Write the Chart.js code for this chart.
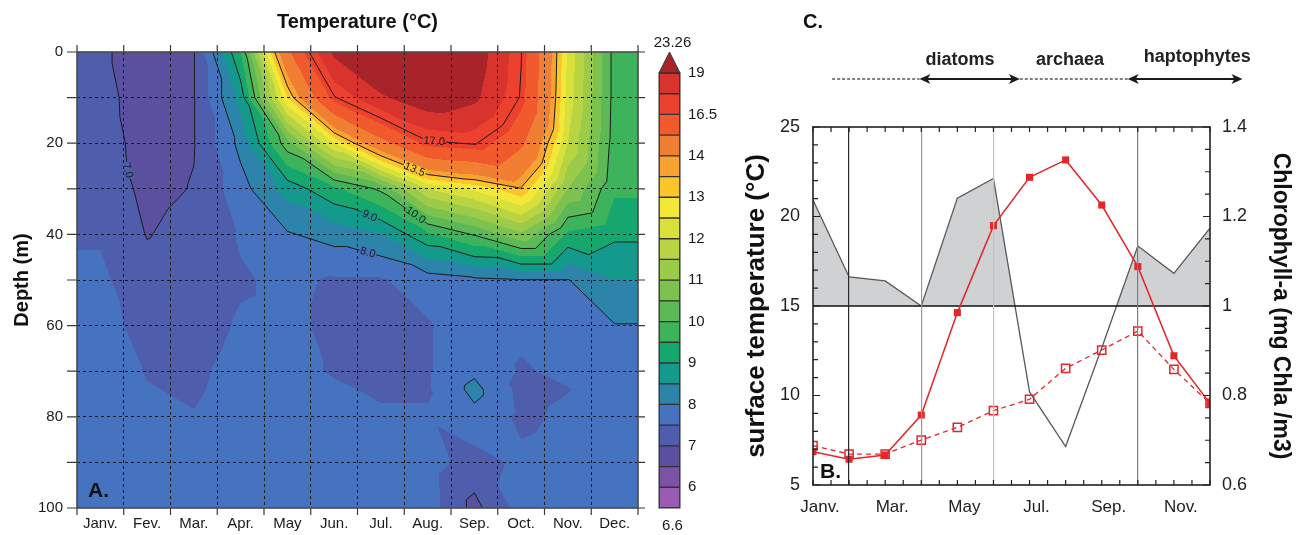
<!DOCTYPE html>
<html lang="en">
<head>
<meta charset="UTF-8">
<title>Temperature profile and surface chlorophyll</title>
<script src="https://cdn.jsdelivr.net/npm/chart.js"></script>
<style>
    body { margin: 0; background: #fff; }
    #wrap { position: relative; width: 1301px; height: 535px; overflow: hidden; }
    canvas { position: absolute; top: 0; }
    #depthChart { left: 0; }
    #colorBar { left: 645px; }
    #seasonChart { left: 720px; }
</style>
</head>
<body>
<div id="wrap">
    <canvas id="depthChart" width="645" height="535"></canvas>
    <canvas id="colorBar" width="75" height="535"></canvas>
    <canvas id="seasonChart" width="581" height="535"></canvas>
</div>
<script>
const MONTHS = ['Janv.', 'Fev.', 'Mar.', 'Apr.', 'May', 'Jun.', 'Jul.', 'Aug.', 'Sep.', 'Oct.', 'Nov.', 'Dec.'];

// depth profiles (m) and monthly temperature (°C) at those depths
const DEPTHS = [0, 10, 20, 30, 40, 50, 60, 70, 74, 80, 90, 100];
const T_JAN = [7.05, 7.10, 7.16, 7.29, 7.45, 7.60, 7.65, 7.65, 7.70, 7.70, 7.70, 7.70];
const T_FEV = [6.85, 6.85, 6.86, 6.88, 6.98, 7.15, 7.35, 7.48, 7.52, 7.58, 7.65, 7.65];
const T_MAR = [6.98, 6.98, 6.98, 7.02, 7.15, 7.25, 7.30, 7.42, 7.45, 7.52, 7.60, 7.65];
const T_APR = [9.50, 8.70, 8.15, 7.80, 7.55, 7.45, 7.55, 7.65, 7.65, 7.70, 7.75, 7.75];
const T_MAY = [15.0, 13.0, 10.3, 8.70, 7.95, 7.60, 7.60, 7.60, 7.65, 7.70, 7.75, 7.75];
const T_JUN = [19.3, 16.9, 12.5, 9.40, 8.20, 7.45, 7.40, 7.47, 7.55, 7.60, 7.70, 7.75];
const T_JUL = [21.0, 18.8, 14.8, 10.1, 8.50, 7.45, 7.35, 7.35, 7.45, 7.55, 7.65, 7.70];
const T_AUG = [21.2, 20.0, 16.8, 12.0, 9.40, 7.75, 7.45, 7.45, 7.45, 7.55, 7.70, 7.75];
const T_SEP = [19.8, 19.3, 17.1, 12.6, 10.05, 7.90, 7.80, 7.90, 8.15, 7.85, 7.30, 6.85];
const T_OCT = [17.05, 16.9, 15.5, 13.45, 10.9, 7.98, 7.60, 7.45, 7.35, 7.40, 7.60, 7.70];
const T_NOV = [12.4, 12.3, 12.0, 11.0, 9.40, 7.98, 7.80, 7.60, 7.48, 7.60, 7.70, 7.75];
const T_DEC = [9.80, 9.80, 9.75, 9.60, 9.10, 8.50, 7.98, 7.80, 7.80, 7.80, 7.80, 7.80];

// colour classes of the temperature field
const COLOR_LEVELS = [5.5, 6, 6.5, 7, 7.5, 8, 8.5, 9, 9.5, 10, 10.5, 11, 11.5, 12, 12.5, 13, 13.5, 14, 15.25, 16.5, 17.75, 19];
const CONTOUR_LEVELS = [7, 8, 9, 10, 13.5, 17];
const FIELD_MAX = '23.26';
const FIELD_MIN = '6.6';

// surface series (right panel)
const SURFACE_TEMP = [6.86, 6.44, 6.68, 8.91, 14.63, 19.49, 22.19, 23.16, 20.64, 17.2, 12.22, 9.56];
const TEMP_OPEN = [7.2, 6.73, 6.73, 7.51, 8.22, 9.15, 9.79, 11.52, 12.54, 13.6, 11.46, 9.56];
const CHL_A = [1.237, 1.065, 1.056, 1.0, 1.241, 1.285, 0.808, 0.686, 0.906, 1.134, 1.073, 1.174];
const CHL_BASE = 1;

// community phases along the season (month index, Janv. = 0)
const PHASES = [
    { name: '', from: 0.53, to: 2.95, arrows: false },
    { name: 'diatoms', from: 2.95, to: 5.73, arrows: true, labelAt: 4.07 },
    { name: 'archaea', from: 5.73, to: 8.72, arrows: false, labelAt: 7.12 },
    { name: 'haptophytes', from: 8.72, to: 11.9, arrows: true, labelAt: 10.65 }
];

// ---- styles ----
const BAND_COLORS = [
    '#9a5cb2', '#7b52a6', '#5b4f9f', '#4e5ead', '#4573bf', '#2c84ab', '#139a8c',
    '#16a76f', '#3db35c', '#5db955', '#7dc24f', '#9ccb4a', '#b9d443', '#d8e03b',
    '#f3e837', '#fcc52c', '#f7a231', '#f07f33', '#f05a2c', '#eb412e', '#d8332d',
    '#a8232a'
];
const GUIDE_COLORS = { 1: '#2a2a2a', 3: '#9a9a9a', 5: '#c4c4c4', 9: '#7e7e7e' };
const CONTOUR_LABELS = [
    { level: 7, month: 1.08, depth: 28 },
    { level: 17, month: 7.64, depth: 19.7 },
    { level: 13.5, month: 7.22, depth: 25.2 },
    { level: 10, month: 7.24, depth: 36.2 },
    { level: 9, month: 6.26, depth: 35.3 },
    { level: 8, month: 6.22, depth: 43.4 }
];
const NONE = 'rgba(0,0,0,0)';
const RED = '#e4262b';

Chart.defaults.font.family = '"Liberation Sans", Arial, Helvetica, sans-serif';
Chart.defaults.color = '#1a1a1a';

// month columns sit at the middle of each month, padded out to the plot edges
const GX = [0, ...MONTHS.map((m, i) => i + 0.5), 12];
const MONTH_T = [T_JAN, T_FEV, T_MAR, T_APR, T_MAY, T_JUN, T_JUL, T_AUG, T_SEP, T_OCT, T_NOV, T_DEC];
const GRID = [MONTH_T[0], ...MONTH_T, MONTH_T[11]];

function hexToRgb(h) {
    const n = parseInt(h.slice(1), 16);
    return [(n >> 16) & 255, (n >> 8) & 255, n & 255];
}
const BAND_RGB = BAND_COLORS.map(hexToRgb);

function bandIndex(v) {
    if (v >= COLOR_LEVELS[COLOR_LEVELS.length - 1]) return BAND_COLORS.length - 1;
    let i = 0;
    while (i < COLOR_LEVELS.length - 2 && v >= COLOR_LEVELS[i + 1]) i++;
    return i;
}

// linear interpolation on triangles (each grid cell split on its diagonal)
function sampleField(u, d) {
    let k = 0;
    while (k < GX.length - 2 && u > GX[k + 1]) k++;
    let r = 0;
    while (r < DEPTHS.length - 2 && d > DEPTHS[r + 1]) r++;
    const fx = Math.min(1, Math.max(0, (u - GX[k]) / (GX[k + 1] - GX[k])));
    const fy = Math.min(1, Math.max(0, (d - DEPTHS[r]) / (DEPTHS[r + 1] - DEPTHS[r])));
    const v00 = GRID[k][r], v10 = GRID[k + 1][r], v01 = GRID[k][r + 1], v11 = GRID[k + 1][r + 1];
    return fx >= fy ? v00 + fx * (v10 - v00) + fy * (v11 - v10)
                    : v00 + fy * (v01 - v00) + fx * (v11 - v01);
}

const contourPlot = {
    id: 'contourPlot',
    beforeDatasetsDraw(chart) {
        const { ctx, chartArea: a, scales: { x, y } } = chart;
        const w = Math.round(a.right - a.left), h = Math.round(a.bottom - a.top);
        const off = document.createElement('canvas');
        off.width = w; off.height = h;
        const octx = off.getContext('2d');
        const img = octx.createImageData(w, h);
        for (let py = 0; py < h; py++) {
            const d = y.getValueForPixel(a.top + py + 0.5);
            for (let px = 0; px < w; px++) {
                const c = BAND_RGB[bandIndex(sampleField(x.getValueForPixel(a.left + px + 0.5), d))];
                const o = (py * w + px) * 4;
                img.data[o] = c[0]; img.data[o + 1] = c[1]; img.data[o + 2] = c[2]; img.data[o + 3] = 255;
            }
        }
        octx.putImageData(img, 0, 0);
        ctx.drawImage(off, a.left, a.top);

        // contour lines, marching triangles over the same mesh
        const P = (k, r) => [x.getPixelForValue(GX[k]), y.getPixelForValue(DEPTHS[r]), GRID[k][r]];
        ctx.save();
        ctx.beginPath();
        ctx.rect(a.left, a.top, a.right - a.left, a.bottom - a.top);
        ctx.clip();
        ctx.beginPath();
        for (const L of CONTOUR_LEVELS) {
            for (let k = 0; k < GX.length - 1; k++) {
                for (let r = 0; r < DEPTHS.length - 1; r++) {
                    const p00 = P(k, r), p10 = P(k + 1, r), p11 = P(k + 1, r + 1), p01 = P(k, r + 1);
                    for (const tri of [[p00, p10, p11], [p00, p01, p11]]) {
                        const pts = [];
                        for (const [p, q] of [[tri[0], tri[1]], [tri[1], tri[2]], [tri[2], tri[0]]]) {
                            if ((p[2] >= L) !== (q[2] >= L)) {
                                const t = (L - p[2]) / (q[2] - p[2]);
                                pts.push([p[0] + t * (q[0] - p[0]), p[1] + t * (q[1] - p[1])]);
                            }
                        }
                        if (pts.length === 2) {
                            ctx.moveTo(pts[0][0], pts[0][1]);
                            ctx.lineTo(pts[1][0], pts[1][1]);
                        }
                    }
                }
            }
        }
        ctx.strokeStyle = '#1c1c1c';
        ctx.lineWidth = 1;
        ctx.stroke();

        // contour labels, placed on the line nearest the wanted depth
        ctx.font = '11px "Liberation Sans", Arial, sans-serif';
        ctx.textAlign = 'center';
        ctx.textBaseline = 'middle';
        for (const lab of CONTOUR_LABELS) {
            let best = null;
            let prev = sampleField(lab.month, 0);
            for (let d = 0.2; d <= 100; d += 0.2) {
                const v = sampleField(lab.month, d);
                if ((prev >= lab.level) !== (v >= lab.level)) {
                    if (best === null || Math.abs(d - lab.depth) < Math.abs(best - lab.depth)) best = d;
                }
                prev = v;
            }
            if (best === null) continue;
            const px = x.getPixelForValue(lab.month), py = y.getPixelForValue(best);
            const f = (qx, qy) => sampleField(x.getValueForPixel(qx), y.getValueForPixel(qy));
            const gx = f(px + 2, py) - f(px - 2, py), gy = f(px, py + 2) - f(px, py - 2);
            let tx = gy, ty = -gx;
            if (tx < 0) { tx = -tx; ty = -ty; }
            const text = lab.level.toFixed(1);
            ctx.save();
            ctx.translate(px, py);
            ctx.rotate(Math.atan2(ty, tx));
            const tw = ctx.measureText(text).width;
            ctx.fillStyle = BAND_COLORS[bandIndex(f(px, py + 3))];
            ctx.fillRect(-tw / 2 - 1, -5, tw + 2, 10);
            ctx.fillStyle = '#1a1a1a';
            ctx.fillText(text, 0, 0);
            ctx.restore();
        }
        ctx.restore();
    },
    afterDraw(chart) {
        const { ctx, chartArea: a, scales: { x, y } } = chart;
        ctx.save();
        ctx.strokeStyle = '#3a3a3a';
        ctx.lineWidth = 1.2;
        ctx.beginPath();
        for (let d = 0; d <= 100; d += 10) {
            const py = y.getPixelForValue(d);
            ctx.moveTo(a.left - 10, py); ctx.lineTo(a.left, py);
            ctx.moveTo(a.right, py); ctx.lineTo(a.right + 10, py);
        }
        for (let m = 0; m <= 12; m++) {
            const px = x.getPixelForValue(m);
            ctx.moveTo(px, a.top - 7); ctx.lineTo(px, a.top);
            ctx.moveTo(px, a.bottom); ctx.lineTo(px, a.bottom + 7);
        }
        ctx.stroke();
        ctx.lineWidth = 1.6;
        ctx.strokeStyle = '#4a4a4a';
        ctx.strokeRect(a.left, a.top, a.right - a.left, a.bottom - a.top);
        ctx.fillStyle = '#111';
        ctx.font = 'bold 21px "Liberation Sans", Arial, sans-serif';
        ctx.textAlign = 'left';
        ctx.textBaseline = 'alphabetic';
        ctx.fillText('A.', a.left + 11, a.bottom - 11);
        ctx.restore();
    }
};

new Chart(document.getElementById('depthChart'), {
    type: 'scatter',
    data: { datasets: [] },
    options: {
        responsive: false,
        animation: false,
        layout: { padding: { right: 3 } },
        plugins: {
            legend: { display: false },
            tooltip: { enabled: false },
            title: {
                display: true, text: 'Temperature (°C)', fullSize: false, color: '#111',
                font: { size: 20, weight: 'bold' }, padding: { top: 10, bottom: 18 }
            }
        },
        scales: {
            x: {
                type: 'linear', min: 0, max: 12,
                afterFit: s => { s.height = 27; },
                grid: {
                    z: 1, drawTicks: false, lineWidth: 1,
                    color: c => {
                        const v = c.tick && c.tick.value;
                        return Number.isInteger(v) && v > 0 && v < 12 ? '#1a1a1a' : NONE;
                    }
                },
                border: { display: false, dash: [3, 3] },
                ticks: {
                    stepSize: 0.5, autoSkip: false, maxRotation: 0, minRotation: 0, padding: 7,
                    font: { size: 15 },
                    callback: v => Number.isInteger(v - 0.5) ? MONTHS[v - 0.5] : ''
                }
            },
            y: {
                type: 'linear', reverse: true, min: 0, max: 100,
                afterFit: s => { s.width = 77; },
                grid: {
                    z: 1, drawTicks: false, lineWidth: 1,
                    color: c => (c.tick && c.tick.value > 0 && c.tick.value < 100) ? '#1a1a1a' : NONE
                },
                border: { display: false, dash: [3, 3] },
                ticks: { stepSize: 10, padding: 14, font: { size: 15 }, callback: v => v % 20 === 0 ? v : '' },
                title: { display: true, text: 'Depth (m)', color: '#111', font: { size: 20, weight: 'bold' }, padding: { top: 10 } }
            }
        }
    },
    plugins: [contourPlot]
});

// colour key: one stacked segment per class, open-ended triangle on top
const colorBarEnds = {
    id: 'colorBarEnds',
    afterDraw(chart) {
        const { ctx, chartArea: a } = chart;
        const top = a.top, l = a.left, r = a.right;
        ctx.save();
        ctx.beginPath();
        ctx.moveTo(l, top);
        ctx.lineTo((l + r) / 2, top - 21);
        ctx.lineTo(r, top);
        ctx.closePath();
        ctx.fillStyle = BAND_COLORS[BAND_COLORS.length - 1];
        ctx.fill();
        ctx.strokeStyle = '#333';
        ctx.lineWidth = 1;
        ctx.stroke();
        ctx.strokeRect(l, top, r - l, a.bottom - top);
        ctx.fillStyle = '#1a1a1a';
        ctx.font = '15px "Liberation Sans", Arial, sans-serif';
        ctx.textAlign = 'center';
        ctx.textBaseline = 'alphabetic';
        ctx.fillText(FIELD_MAX, (l + r) / 2 + 3, top - 26);
        ctx.fillText(FIELD_MIN, (l + r) / 2 + 3, a.bottom + 22);
        ctx.restore();
    }
};

new Chart(document.getElementById('colorBar'), {
    type: 'bar',
    data: {
        labels: [''],
        datasets: BAND_COLORS.slice(0, COLOR_LEVELS.length - 1).map(c => ({
            data: [1], backgroundColor: c, borderColor: '#333', borderWidth: 1, borderSkipped: false,
            barPercentage: 1, categoryPercentage: 1
        }))
    },
    options: {
        responsive: false,
        animation: false,
        layout: { padding: { left: 14, top: 73, bottom: 27 } },
        plugins: { legend: { display: false }, tooltip: { enabled: false } },
        scales: {
            x: { display: false, stacked: true },
            y: {
                stacked: true, position: 'right', min: 0, max: COLOR_LEVELS.length - 1,
                afterFit: s => { s.width = 40; },
                grid: { display: false, drawTicks: false },
                border: { display: false },
                ticks: {
                    stepSize: 1, autoSkip: false, padding: 8, font: { size: 15 },
                    callback: v => Math.round(v) % 2 === 1 ? String(COLOR_LEVELS[Math.round(v)]) : ''
                }
            }
        }
    },
    plugins: [colorBarEnds]
});

// frame, inward ticks and annotations of the seasonal panel
const seasonFrame = {
    id: 'seasonFrame',
    afterDraw(chart) {
        const { ctx, chartArea: a, scales: { x, y, y1 } } = chart;
        ctx.save();
        ctx.strokeStyle = '#222';
        ctx.lineWidth = 1.2;
        ctx.beginPath();
        for (let m = 0; m <= 11.001; m += 0.5) {
            const px = x.getPixelForValue(m);
            ctx.moveTo(px, a.bottom); ctx.lineTo(px, a.bottom - 5);
            ctx.moveTo(px, a.top); ctx.lineTo(px, a.top + 5);
        }
        for (let t = 5; t <= 25; t++) {
            const py = y.getPixelForValue(t);
            ctx.moveTo(a.left, py); ctx.lineTo(a.left + (t % 5 === 0 ? 7 : 5), py);
        }
        for (let i = 0; i <= 16; i++) {
            const py = y1.getPixelForValue(0.6 + i * 0.05);
            ctx.moveTo(a.right, py); ctx.lineTo(a.right - (i % 4 === 0 ? 7 : 5), py);
        }
        ctx.stroke();
        ctx.lineWidth = 1.6;
        ctx.strokeRect(a.left, a.top, a.right - a.left, a.bottom - a.top);

        // phase arrows above the panel
        const ay = 79;
        for (const ph of PHASES) {
            const x0 = x.getPixelForValue(ph.from), x1 = x.getPixelForValue(ph.to);
            ctx.beginPath();
            if (ph.arrows) {
                ctx.setLineDash([]);
                ctx.strokeStyle = '#1a1a1a';
                ctx.lineWidth = 1.8;
                ctx.moveTo(x0 + 4, ay); ctx.lineTo(x1 - 4, ay);
                ctx.stroke();
                ctx.fillStyle = '#1a1a1a';
                for (const [tip, dir] of [[x0, 1], [x1, -1]]) {
                    ctx.beginPath();
                    ctx.moveTo(tip, ay);
                    ctx.lineTo(tip + dir * 11, ay - 5);
                    ctx.lineTo(tip + dir * 8, ay);
                    ctx.lineTo(tip + dir * 11, ay + 5);
                    ctx.closePath();
                    ctx.fill();
                }
            } else {
                ctx.setLineDash([3, 2]);
                ctx.strokeStyle = '#555';
                ctx.lineWidth = 1.4;
                ctx.moveTo(x0, ay); ctx.lineTo(x1, ay);
                ctx.stroke();
                ctx.setLineDash([]);
            }
            if (ph.name) {
                ctx.fillStyle = '#222';
                ctx.font = 'bold 18px "Liberation Sans", Arial, sans-serif';
                ctx.textAlign = 'center';
                ctx.textBaseline = 'alphabetic';
                ctx.fillText(ph.name, x.getPixelForValue(ph.labelAt), ph.name === 'haptophytes' ? 62 : 65);
            }
        }

        ctx.fillStyle = '#111';
        ctx.textAlign = 'left';
        ctx.font = 'bold 20px "Liberation Sans", Arial, sans-serif';
        ctx.fillText('C.', 83, 28);
        ctx.font = 'bold 21px "Liberation Sans", Arial, sans-serif';
        ctx.fillText('B.', a.left + 7, a.bottom - 7);
        ctx.restore();
    }
};

const pts = arr => arr.map((v, i) => ({ x: i, y: v }));

new Chart(document.getElementById('seasonChart'), {
    type: 'line',
    data: {
        datasets: [
            {
                data: pts(SURFACE_TEMP), yAxisID: 'y', borderColor: RED, borderWidth: 1.5,
                pointStyle: 'rect', pointRadius: 5, pointBackgroundColor: RED, pointBorderColor: RED,
                pointBorderWidth: 0, fill: false, order: 1
            },
            {
                data: pts(TEMP_OPEN), yAxisID: 'y', borderColor: RED, borderWidth: 1.3, borderDash: [5, 4],
                pointStyle: 'rect', pointRadius: 5.8, pointBackgroundColor: NONE, pointBorderColor: RED,
                pointBorderWidth: 1.5, fill: false, order: 2
            },
            {
                data: pts(CHL_A.map(() => CHL_BASE)), yAxisID: 'y1', borderColor: '#111', borderWidth: 1.7,
                pointRadius: 0, fill: false, order: 3
            },
            {
                data: pts(CHL_A), yAxisID: 'y1', borderColor: '#585858', borderWidth: 1.3, pointRadius: 0,
                fill: { target: { value: CHL_BASE }, above: '#d0d1d3', below: NONE }, order: 4
            }
        ]
    },
    options: {
        responsive: false,
        animation: false,
        layout: { padding: { top: 127 } },
        plugins: { legend: { display: false }, tooltip: { enabled: false } },
        scales: {
            x: {
                type: 'linear', min: 0, max: 11,
                afterFit: s => { s.height = 50; },
                grid: {
                    z: 1, drawTicks: false, lineWidth: 1.2,
                    color: c => GUIDE_COLORS[c.tick && c.tick.value] || NONE
                },
                border: { display: false },
                ticks: {
                    stepSize: 1, autoSkip: false, maxRotation: 0, minRotation: 0, padding: 12,
                    labelOffset: 7, font: { size: 17 }, color: '#222',
                    callback: v => v % 2 === 0 ? MONTHS[v] : ''
                }
            },
            y: {
                position: 'left', min: 5, max: 25,
                afterFit: s => { s.width = 93; },
                grid: { display: false, drawTicks: false },
                border: { display: false },
                ticks: { stepSize: 5, padding: 13, font: { size: 18 }, color: '#222' },
                title: {
                    display: true, text: 'surface temperature (°C)', color: '#111',
                    font: { size: 26, weight: 'bold' }, padding: { top: 21, bottom: 0 }
                }
            },
            y1: {
                position: 'right', min: 0.6, max: 1.4,
                afterFit: s => { s.width = 91; },
                grid: { display: false, drawTicks: false },
                border: { display: false },
                ticks: { stepSize: 0.2, padding: 12, font: { size: 18 }, color: '#222', callback: v => String(+v.toFixed(1)) },
                title: {
                    display: true, text: 'Chlorophyll-a (mg Chla /m3)', color: '#111',
                    font: { size: 23, weight: 'bold' }, padding: { top: 7, bottom: 0 }
                }
            }
        }
    },
    plugins: [seasonFrame]
});
</script>
</body>
</html>
